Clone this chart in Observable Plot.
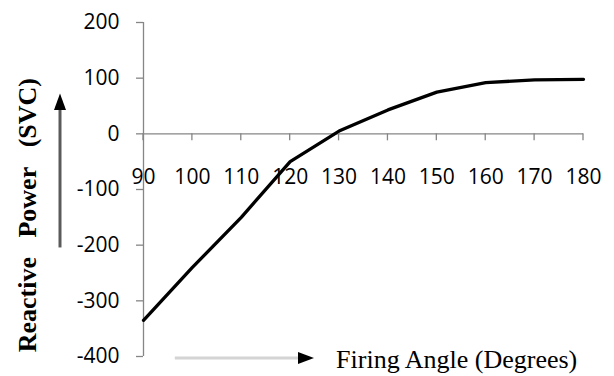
<!DOCTYPE html>
<html>
<head>
<meta charset="utf-8">
<script src="https://cdn.jsdelivr.net/npm/d3@7"></script>
<script src="https://cdn.jsdelivr.net/npm/@observablehq/plot@0.6"></script>
<style>
  html, body { margin: 0; padding: 0; background: #fff; }
  #chart svg { display: block; }
</style>
</head>
<body>
<div id="chart"></div>
<script>
// SVC reactive power versus thyristor firing angle
const firingAngle = [90, 100, 110, 120, 130, 140, 150, 160, 170, 180];
const reactivePower = [-335, -240, -150, -50, 5, 43, 75, 92, 97, 98];
const xTicks = [90, 100, 110, 120, 130, 140, 150, 160, 170, 180];
const yTicks = [-400, -300, -200, -100, 0, 100, 200];

const data = firingAngle.map((a, i) => ({angle: a, q: reactivePower[i]}));
const axisGrey = "#868686";
const tickFont = "'Open Sans', 'Liberation Sans', sans-serif";
const serif = "'Liberation Serif', 'Times New Roman', serif";

const plot = Plot.plot({
  width: 614,
  height: 376,
  marginLeft: 143,
  marginRight: 31,
  marginTop: 22,
  marginBottom: 20,
  style: {fontFamily: tickFont, fontSize: "21px", color: "#000", background: "#fff", overflow: "visible"},
  x: {domain: [90, 180], axis: null},
  y: {domain: [-400, 200], axis: null},
  marks: [
    // vertical axis with outward ticks
    Plot.axisY({ticks: yTicks, tickSize: 7, tickPadding: 17, tickFormat: d => String(d),
                label: null, stroke: axisGrey, fill: "#000", strokeWidth: 1.3, fontSize: 21}),
    Plot.ruleX([90], {stroke: axisGrey, strokeWidth: 1.3}),
    // horizontal axis drawn through zero
    Plot.ruleY([0], {stroke: axisGrey, strokeWidth: 1.3}),
    Plot.text(xTicks, {x: d => d, y: 0, dy: 43, text: d => String(d), fill: "#000", fontSize: 21}),
    Plot.line(data, {x: "angle", y: "q", stroke: "#000", strokeWidth: 3.3, strokeLinejoin: "round"})
  ]
});

const svg = d3.select(plot);
const xs = plot.scale("x"), ys = plot.scale("y");
const y0 = ys.apply(0);

// tick marks below the zero line
svg.append("g")
  .attr("stroke", axisGrey).attr("stroke-width", 1.3)
  .selectAll("line").data(xTicks).join("line")
  .attr("x1", d => xs.apply(d)).attr("x2", d => xs.apply(d))
  .attr("y1", y0).attr("y2", y0 + 7);

// arrow head marker
const defs = svg.append("defs");
defs.append("marker")
  .attr("id", "head").attr("viewBox", "0 0 10 10")
  .attr("preserveAspectRatio", "none")
  .attr("refX", 1).attr("refY", 5)
  .attr("markerWidth", 5.5).attr("markerHeight", 4)
  .attr("markerUnits", "strokeWidth")
  .attr("orient", "auto")
  .append("path").attr("d", "M0,0 L10,5 L0,10 Z").attr("fill", "#000");

const x90 = xs.apply(90);
const yBottom = ys.apply(-400);

// upward arrow beside the vertical title
svg.append("line")
  .attr("x1", x90 - 83).attr("x2", x90 - 83)
  .attr("y1", ys.apply(-205)).attr("y2", ys.apply(45))
  .attr("stroke", "#5a5a5a").attr("stroke-width", 3)
  .attr("marker-end", "url(#head)");

// rightward arrow before the horizontal title
svg.append("line")
  .attr("x1", xs.apply(96.5)).attr("x2", xs.apply(122))
  .attr("y1", yBottom + 2).attr("y2", yBottom + 2)
  .attr("stroke", "#d4d4d4").attr("stroke-width", 3)
  .attr("marker-end", "url(#head)");

// axis titles
svg.append("text")
  .attr("x", xs.apply(129.5)).attr("y", yBottom + 12)
  .attr("text-anchor", "start")
  .attr("font-family", serif).attr("font-size", 26)
  .attr("fill", "#000")
  .text("Firing Angle (Degrees)");

svg.append("text")
  .attr("transform", `translate(${x90 - 107},${ys.apply(-147)}) rotate(-90)`)
  .attr("text-anchor", "middle")
  .attr("font-family", serif).attr("font-size", 26).attr("font-weight", "bold")
  .attr("fill", "#000")
  .style("white-space", "pre")
  .text("Reactive\u00a0\u00a0 Power\u00a0\u00a0 (SVC)");

document.getElementById("chart").append(plot);
</script>
</body>
</html>
